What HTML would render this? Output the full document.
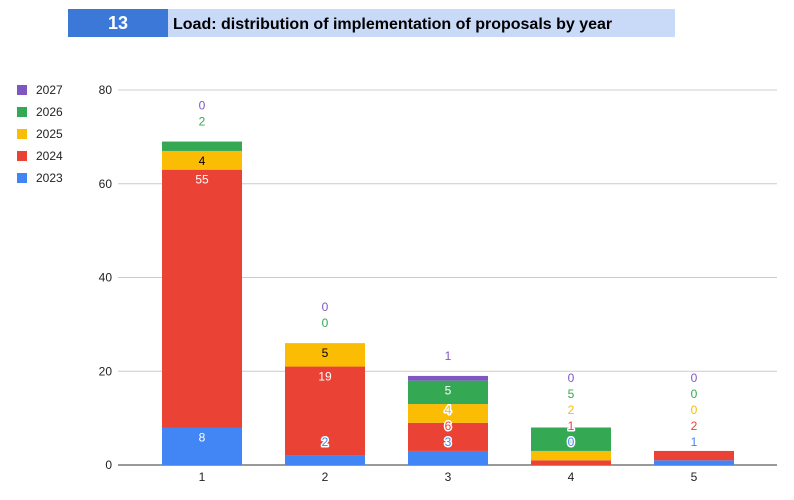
<!DOCTYPE html>
<html><head><meta charset="utf-8"><style>
body{margin:0;background:#fff;width:794px;height:495px;overflow:hidden;font-family:"Liberation Sans",Arial,sans-serif}
</style></head><body>
<svg id="c" width="794" height="495" xmlns="http://www.w3.org/2000/svg">
<rect x="68" y="9" width="100" height="28" fill="#3c78d8"/>
<rect x="168" y="9" width="507" height="28" fill="#c9daf8"/>
<text x="118" y="29" text-anchor="middle" fill="#fff" font-weight="bold" font-size="18">13</text>
<text x="173" y="29" fill="#000" font-weight="bold" font-size="16">Load: distribution of implementation of proposals by year</text>
<g id="grid"></g><g id="bars"></g><g id="labels"></g><g id="legend"></g>
</svg>
<script>
const categories=["1","2","3","4","5"];
const seriesNames=["2023","2024","2025","2026","2027"];
const s2023=[8,2,3,0,1];
const s2024=[55,19,6,1,2];
const s2025=[4,5,4,2,0];
const s2026=[2,0,5,5,0];
const s2027=[0,0,1,0,0];
const yTicks=[0,20,40,60,80];
const series=[s2023,s2024,s2025,s2026,s2027];
const colors=["#4285f4","#ea4335","#fbbc04","#34a853","#7e57c2"];
const NS="http://www.w3.org/2000/svg";
const y0=465,yTop=90,yMax=80,x0=118,x1=777;
const Y=v=>y0-(y0-yTop)*v/yMax;
const step=123;
const X=i=>202+step*i;
const bw=80;
function mk(t,a,p){const e=document.createElementNS(NS,t);for(const k in a)e.setAttribute(k,a[k]);p.appendChild(e);return e;}
const grid=document.getElementById('grid');
yTicks.forEach(t=>{
 const l=mk('line',{x1:x0,x2:x1,y1:Y(t),y2:Y(t),stroke:t===0?'#333':'#ccc','stroke-width':1},grid);
 
 
 const tx=mk('text',{x:112,y:Y(t)+4,'text-anchor':'end','font-size':12,fill:'#222'},grid);tx.textContent=t;
 
 
});
categories.forEach((c,i)=>{
 const tx=mk('text',{x:X(i),y:481,'text-anchor':'middle','font-size':12,fill:'#222'},grid);tx.textContent=c;
 
 
});
const bars=document.getElementById('bars'),labs=document.getElementById('labels');
categories.forEach((c,i)=>{
 let cum=0;const segs=[];
 series.forEach((s,k)=>{const v=s[i];const top=Y(cum+v),bot=Y(cum);
  if(v>0){const r=mk('rect',{x:X(i)-bw/2,y:top,width:bw,height:bot-top,fill:colors[k]},bars);
   
   }
  segs.push({v,top,bot,k});cum+=v;});
 const barTop=Y(cum);
 let prev=442,fitBelow=false;
 segs.forEach(sg=>{
  const h=sg.bot-sg.top;const fit=h>=16;let y;
  if(fit){y=Math.min(sg.top+10,prev);fitBelow=true;}
  else{y=prev;if(fitBelow)y=Math.min(y,barTop-20);}
  prev=y-16;
  const inside=fit&&y-6>=sg.top&&y+6<=sg.bot;
  const fill=inside?(sg.k===2?'#000':'#fff'):colors[sg.k];
  const a={x:X(i),y:y+4,'text-anchor':'middle','font-size':12,fill};
  if(!inside){a.stroke='#fff';a['stroke-width']=3;a['paint-order']='stroke';a['stroke-linejoin']='round';}
  const t=mk('text',a,labs);
  t.textContent=sg.v;
  
  
 });
});
const lg=document.getElementById('legend');
for(let k=4;k>=0;k--){const yy=90+(4-k)*22;
 const r=mk('rect',{x:17,y:yy-5,width:10,height:10,fill:colors[k]},lg);
 
 
 const t=mk('text',{x:36,y:yy+4,'font-size':12,fill:'#222'},lg);t.textContent=seriesNames[k];
 
 
}
</script>
</body></html>
